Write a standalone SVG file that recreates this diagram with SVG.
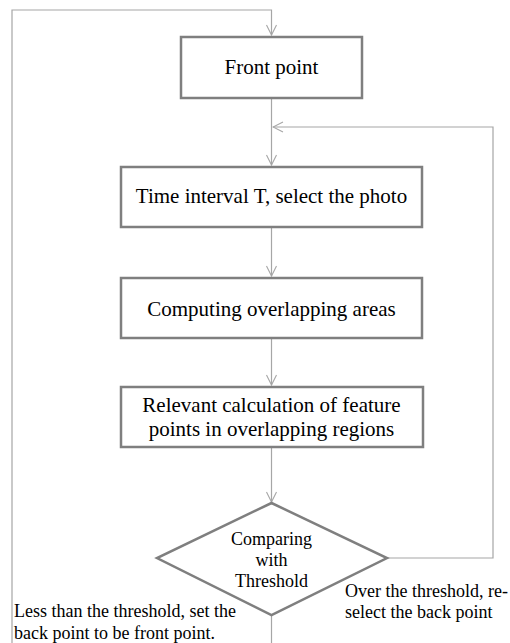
<svg xmlns="http://www.w3.org/2000/svg" width="510" height="643" viewBox="0 0 510 643">
<defs>
<style>
.box{fill:#fff;stroke:#7f7f7f;stroke-width:2.5}
.con{fill:none;stroke:#a6a6a6;stroke-width:1.2}
.t{font-family:"Liberation Serif","Times New Roman",serif;fill:#000;text-anchor:middle}
.l{font-family:"Liberation Serif","Times New Roman",serif;fill:#000}
</style>
<marker id="ah" viewBox="0 0 12 12" refX="11" refY="6" markerWidth="12" markerHeight="12" markerUnits="userSpaceOnUse" orient="auto">
<path d="M1,1 L11,6 L1,11" fill="none" stroke="#a6a6a6" stroke-width="1.1"/>
</marker>
</defs>
<rect width="510" height="643" fill="#fff"/>
<g id="connectors">
<path class="con" d="M12,643 V10 H271.5 V35" marker-end="url(#ah)"/>
<path class="con" d="M271.5,98 V165" marker-end="url(#ah)"/>
<path class="con" d="M387,558 H493 V127 H273" marker-end="url(#ah)"/>
<path class="con" d="M271.5,228 V276" marker-end="url(#ah)"/>
<path class="con" d="M271.5,339 V385" marker-end="url(#ah)"/>
<path class="con" d="M271.5,448 V502" marker-end="url(#ah)"/>
<path class="con" d="M271.5,615 V643"/>
</g>
<g id="front">
<rect class="box" x="181" y="37" width="181" height="61"/>
<text class="t" x="271.5" y="74" font-size="21">Front point</text>
</g>
<g id="interval">
<rect class="box" x="121" y="167" width="301" height="60"/>
<text class="t" x="271.5" y="203" font-size="21">Time interval T, select the photo</text>
</g>
<g id="overlap">
<rect class="box" x="121" y="278" width="301" height="60"/>
<text class="t" x="271.5" y="316" font-size="21">Computing overlapping areas</text>
</g>
<g id="feature">
<rect class="box" x="121" y="387" width="302" height="60"/>
<text class="t" x="271.5" y="412" font-size="21">Relevant calculation of feature</text>
<text class="t" x="271.5" y="436" font-size="21">points in overlapping regions</text>
</g>
<g id="compare">
<polygon class="box" points="271.5,503 387,558 271.5,615 157,558"/>
<text class="t" x="271.5" y="545" font-size="18">Comparing</text>
<text class="t" x="271.5" y="566" font-size="18">with</text>
<text class="t" x="271.5" y="587" font-size="18">Threshold</text>
</g>
<g id="labels">
<text class="l" x="345" y="597" font-size="18">Over the threshold, re-</text>
<text class="l" x="345" y="618" font-size="18">select the back point</text>
<text class="l" x="14" y="617" font-size="18">Less than the threshold, set the</text>
<text class="l" x="14" y="639" font-size="18">back point to be front point.</text>
</g>
</svg>
